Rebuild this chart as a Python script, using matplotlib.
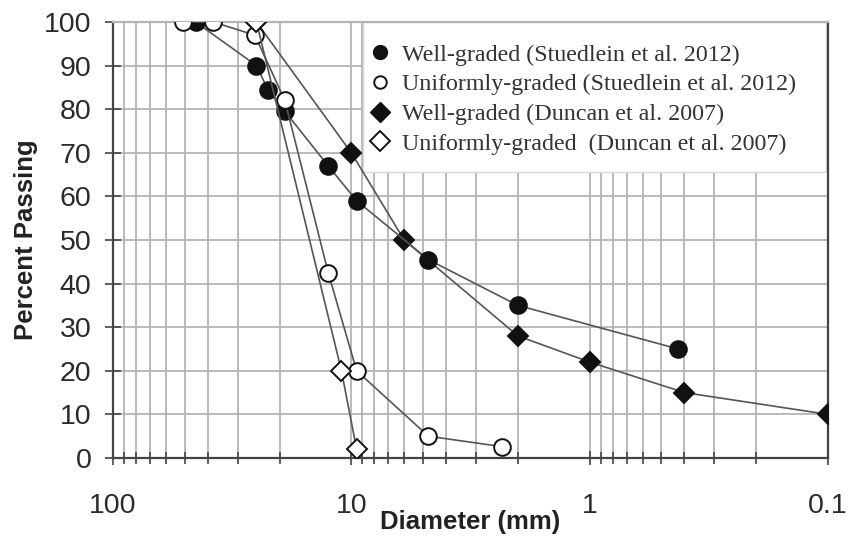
import matplotlib
matplotlib.use("Agg")
from matplotlib import pyplot as plt
from matplotlib.lines import Line2D
from matplotlib.patches import Rectangle
from matplotlib.ticker import LogLocator, NullFormatter, FixedLocator, FixedFormatter

# Well-graded (Stuedlein et al. 2012)
wg_s_d = [45, 25, 22.4, 19, 12.5, 9.5, 4.75, 2.0, 0.425]
wg_s_p = [100, 90, 84.5, 79.5, 67, 59, 45.5, 35, 25]

# Uniformly-graded (Stuedlein et al. 2012)
ug_s_d = [51, 38, 25.4, 19, 12.5, 9.5, 4.75, 2.33]
ug_s_p = [100, 100, 97, 82, 42.5, 20, 5, 2.6]

# Well-graded (Duncan et al. 2007)
wg_d_d = [25, 10, 6.0, 2.0, 1.0, 0.4, 0.1]
wg_d_p = [100, 70, 50, 28, 22, 15, 10]

# Uniformly-graded (Duncan et al. 2007)
ug_d_d = [25, 11, 9.5]
ug_d_p = [100, 20, 2]

etiquetas = ["Well-graded (Stuedlein et al. 2012)",
             "Uniformly-graded (Stuedlein et al. 2012)",
             "Well-graded (Duncan et al. 2007)",
             "Uniformly-graded  (Duncan et al. 2007)"]

xticks = [100, 10, 1, 0.1]
xtick_labels = ["100", "10", "1", "0.1"]
yticks = list(range(0, 101, 10))

linea = "#555555"
gris = "#b4b4b4"

fig = plt.figure(figsize=(8.52, 5.46), dpi=100)
ax = fig.add_axes([0.1326, 0.1612, 0.8392, 0.7985])

ax.set_xscale("log")
ax.set_xlim(100, 0.1)
ax.set_ylim(0, 100)

# rejilla
ax.xaxis.set_major_locator(FixedLocator(xticks))
ax.xaxis.set_major_formatter(FixedFormatter(xtick_labels))
ax.xaxis.set_minor_locator(LogLocator(base=10, subs=range(2, 10)))
ax.xaxis.set_minor_formatter(NullFormatter())
ax.set_yticks(yticks)
ax.grid(True, which="both", axis="x", color=gris, lw=1.3)
ax.grid(True, which="major", axis="y", color=gris, lw=1.3)
ax.set_axisbelow(True)

for s in ax.spines.values():
    s.set_color("#444444")
    s.set_linewidth(1.6)
ax.spines["top"].set_color(gris)

ax.tick_params(axis="both", which="both", direction="inout", colors="#444444",
               labelcolor="#2a2a2a", labelsize=20.5, width=1.2)
ax.tick_params(axis="y", length=11, pad=10)
ax.tick_params(axis="x", which="major", length=10, pad=20)
ax.tick_params(axis="x", which="minor", length=8)
for lab in ax.get_xticklabels() + ax.get_yticklabels():
    lab.set_family("Liberation Sans")

# caja de la leyenda, tapa la rejilla
caja = Rectangle((0.3497, 0.656), 0.647, 0.344, transform=ax.transAxes,
                 facecolor="white", edgecolor="#d8d8d8", lw=1.0, zorder=1.8)
ax.add_patch(caja)

kw = dict(color=linea, lw=1.2, mec="#111111", mew=1.4, zorder=3)
ax.plot(wg_d_d, wg_d_p, marker="D", ms=10, mfc="#111111", **kw)
ax.plot(wg_s_d, wg_s_p, marker="o", ms=12, mfc="#111111", **kw)
ax.plot(ug_s_d, ug_s_p, marker="o", ms=12, mfc="white", **kw)
ax.plot(ug_d_d, ug_d_p, marker="D", ms=10, mfc="white", **kw)

handles = [
    Line2D([], [], ls="none", marker="o", ms=10, mfc="#111111", mec="#111111"),
    Line2D([], [], ls="none", marker="o", ms=9, mfc="white", mec="#111111", mew=1.4),
    Line2D([], [], ls="none", marker="D", ms=10, mfc="#111111", mec="#111111"),
    Line2D([], [], ls="none", marker="D", ms=10, mfc="white", mec="#111111", mew=1.4),
]
leg = ax.legend(handles, etiquetas, loc="upper left", bbox_to_anchor=(0.347, 0.972),
                frameon=False, handlelength=0.8, handletextpad=0.5,
                labelspacing=0.33, borderaxespad=0,
                prop={"family": "Liberation Serif", "size": 17.3})
for t in leg.get_texts():
    t.set_color("#333333")
leg.set_zorder(4)

ax.set_xlabel("Diameter (mm)", fontsize=18.5, fontweight="bold",
              family="Liberation Sans", color="#222222", labelpad=-6)
ax.set_ylabel("Percent Passing", fontsize=18.5, fontweight="bold",
              family="Liberation Sans", color="#222222", labelpad=4)

fig.savefig("out.png", dpi=100, facecolor="white")
